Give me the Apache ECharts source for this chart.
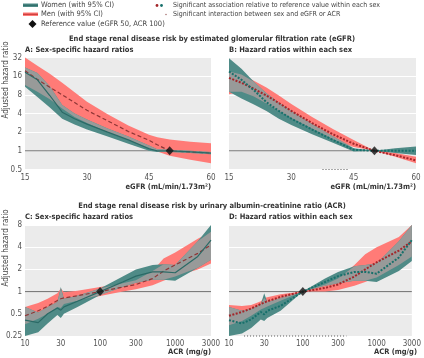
<!DOCTYPE html>
<html>
<head>
<meta charset="UTF-8">
<title>ESRD hazard ratios</title>
<script src="https://cdn.jsdelivr.net/npm/echarts@6/dist/echarts.min.js"></script>
<style>
  html, body { margin: 0; padding: 0; background: #fff; }
  #chart { width: 424px; height: 358px; }
</style>
</head>
<body>
<div id="chart"></div>
<script>
// eGFR panels (A: sex-specific, B: within each sex)
var egfrA = [15, 18, 21, 24, 27, 30, 35, 40, 45, 47, 50, 55, 60];
var menA = [19.5, 14.2, 10.6, 8.0, 6.0, 4.5, 3.05, 2.05, 1.48, 1.25, 1.0, 0.96, 0.92];
var menAHi = [32, 23.5, 17.5, 12.5, 8.8, 6.2, 3.9, 2.55, 1.82, 1.65, 1.52, 1.4, 1.32];
var menALo = [11.5, 9.0, 6.8, 4.8, 3.5, 2.8, 2.0, 1.5, 1.12, 0.98, 0.83, 0.72, 0.63];
var womenA = [18.5, 14.0, 7.8, 4.2, 3.3, 2.7, 2.0, 1.5, 1.08, 1.0, 1.0, 0.96, 0.92];
var womenAHi = [22, 18, 11, 5.5, 4.0, 3.2, 2.3, 1.7, 1.22, 1.06, 1.04, 1.0, 0.96];
var womenALo = [10.8, 7.4, 5.0, 3.3, 2.65, 2.2, 1.7, 1.3, 1.0, 0.96, 0.96, 0.92, 0.88];

var egfrB = [15, 18, 21, 24, 27, 30, 35, 40, 45, 50, 55, 60];
var menB = [15, 12.5, 10, 7.8, 5.9, 4.4, 2.8, 1.85, 1.3, 1.0, 0.85, 0.7];
var menBHi = [19, 17, 13.5, 10.5, 7.8, 5.7, 3.5, 2.25, 1.5, 1.0, 0.92, 0.8];
var menBLo = [8.2, 9.0, 7.5, 5.8, 4.4, 3.4, 2.3, 1.55, 1.15, 1.0, 0.8, 0.63];
var womenB = [19, 14, 9.5, 6.1, 4.4, 3.3, 2.2, 1.5, 1.04, 1.0, 1.0, 1.0];
var womenBHi = [31, 21, 13, 8.5, 6.0, 4.4, 2.7, 1.72, 1.1, 1.0, 1.1, 1.17];
var womenBLo = [9.0, 7.0, 5.6, 4.4, 3.3, 2.6, 1.85, 1.35, 0.98, 1.0, 0.92, 0.86];
var interB = [37.5, 44];

// ACR panels (C: sex-specific, D: within each sex)
var acr = [10, 15, 20, 27, 30, 33, 50, 100, 200, 300, 500, 700, 1000, 2000, 3000];
var menC = [0.47, 0.55, 0.63, 0.76, 0.8, 0.82, 0.88, 1.0, 1.15, 1.25, 1.5, 1.9, 2.3, 3.3, 4.3];
var menCHi = [0.62, 0.7, 0.8, 0.95, 1.1, 0.98, 1.03, 1.15, 1.3, 1.42, 1.9, 2.8, 3.4, 5.2, 6.5];
var menCLo = [0.36, 0.43, 0.5, 0.62, 0.6, 0.68, 0.75, 0.87, 1.0, 1.08, 1.22, 1.4, 1.6, 2.0, 2.4];
var womenC = [0.41, 0.38, 0.5, 0.6, 0.56, 0.62, 0.74, 1.0, 1.35, 1.62, 1.85, 1.85, 1.8, 3.0, 5.0];
var womenCHi = [0.62, 0.52, 0.62, 0.72, 1.15, 0.8, 0.88, 1.1, 1.6, 2.0, 2.3, 2.35, 2.3, 4.8, 8];
var womenCLo = [0.25, 0.28, 0.37, 0.48, 0.44, 0.5, 0.62, 0.9, 1.15, 1.32, 1.45, 1.45, 1.4, 2.1, 2.7];

var menD = [0.47, 0.53, 0.59, 0.68, 0.71, 0.74, 0.85, 1.0, 1.12, 1.25, 1.6, 2.0, 2.5, 3.6, 4.8];
var menDHi = [0.66, 0.64, 0.66, 0.74, 0.82, 0.84, 0.92, 1.0, 1.25, 1.5, 2.3, 3.2, 4.0, 5.5, 8];
var menDLo = [0.35, 0.4, 0.47, 0.57, 0.6, 0.63, 0.75, 1.0, 1.0, 1.05, 1.2, 1.35, 1.55, 2.3, 3.0];
var womenD = [0.41, 0.37, 0.42, 0.53, 0.49, 0.55, 0.64, 1.0, 1.35, 1.62, 1.85, 1.85, 1.75, 2.9, 5.0];
var womenDHi = [0.62, 0.55, 0.58, 0.68, 0.95, 0.72, 0.82, 1.0, 1.5, 1.85, 2.2, 2.3, 2.4, 4.8, 8];
var womenDLo = [0.25, 0.27, 0.32, 0.42, 0.4, 0.44, 0.55, 1.0, 1.2, 1.3, 1.4, 1.4, 1.35, 1.9, 2.6];
var interD = [16, 390];

var acrTicks = [10, 30, 100, 300, 1000, 3000];
var refEgfr = 50, refAcr = 100;

var FONT = '"Liberation Sans Narrow", "DejaVu Sans Condensed", sans-serif';
var C_MEN_BAND = '#ff7b77', C_WOMEN_BAND = '#4f8b87', C_OVERLAP = '#989a99';
var C_MEN_LINE = '#8e3535', C_WOMEN_LINE = '#2b6a66';
var C_MEN_DOT = '#a3262a', C_WOMEN_DOT = '#17706b';

function lg(v) { return Math.log10(v); }

function band(idx, xs, lo, hi, color, z) {
  return {
    type: 'custom', xAxisIndex: idx, yAxisIndex: idx, silent: true, z: z,
    data: [[xs[0], hi[0]]],
    renderItem: function (params, api) {
      var pts = [];
      for (var i = 0; i < xs.length; i++) pts.push(api.coord([xs[i], hi[i]]));
      for (var j = xs.length - 1; j >= 0; j--) pts.push(api.coord([xs[j], lo[j]]));
      return { type: 'polygon', shape: { points: pts }, style: { fill: color } };
    }
  };
}

// grey where the two confidence bands overlap
function overlap(mLo, mHi, wLo, wHi) {
  var lo = [], hi = [];
  for (var i = 0; i < mLo.length; i++) {
    var a = Math.max(mLo[i], wLo[i]), b = Math.min(mHi[i], wHi[i]);
    if (b < a) { var m = Math.sqrt(a * b); a = m; b = m; }
    lo.push(a); hi.push(b);
  }
  return { lo: lo, hi: hi };
}

function pairs(xs, ys) {
  return xs.map(function (x, i) { return [x, ys[i]]; });
}

function panel(idx, xs, xr, refX, yMin, m, mLo, mHi, w, wLo, wHi, dotted, inter) {
  var ov = overlap(mLo, mHi, wLo, wHi);
  var list = [
    { type: 'line', xAxisIndex: idx, yAxisIndex: idx, silent: true, z: 1, symbol: 'none',
      data: [[xr[0], 1], [xr[1], 1]], lineStyle: { color: '#6f6f6f', width: 1 } },
    band(idx, xs, mLo, mHi, C_MEN_BAND, 2),
    band(idx, xs, wLo, wHi, C_WOMEN_BAND, 3),
    band(idx, xs, ov.lo, ov.hi, C_OVERLAP, 4),
    { type: 'line', xAxisIndex: idx, yAxisIndex: idx, silent: true, z: 5, symbol: 'none',
      data: pairs(xs, m),
      lineStyle: dotted ? { color: C_MEN_DOT, width: 2, type: [2, 1.5] }
                        : { color: C_MEN_LINE, width: 1.2, type: [4, 2.5] } },
    { type: 'line', xAxisIndex: idx, yAxisIndex: idx, silent: true, z: 5, symbol: 'none',
      data: pairs(xs, w),
      lineStyle: dotted ? { color: C_WOMEN_DOT, width: 2, type: [2, 1.5] }
                        : { color: C_WOMEN_LINE, width: 1.2 } },
    { type: 'scatter', xAxisIndex: idx, yAxisIndex: idx, silent: true, z: 6,
      symbol: 'diamond', symbolSize: [8, 9], itemStyle: { color: '#111' },
      data: [[refX, 1]] }
  ];
  if (inter) {
    list.push({ type: 'line', xAxisIndex: idx, yAxisIndex: idx, silent: true, z: 6, symbol: 'none',
      clip: false, data: [[inter[0], yMin], [inter[1], yMin]],
      lineStyle: { color: '#555', width: 1, type: [1, 2] } });
  }
  return list;
}

var grids = [
  { left: 25, top: 57.5, width: 186, height: 112 },
  { left: 229, top: 57.5, width: 187, height: 112 },
  { left: 25, top: 225, width: 186, height: 111 },
  { left: 229, top: 225, width: 188, height: 111 }
].map(function (g) {
  return Object.assign({ show: true, backgroundColor: '#ebebeb', borderWidth: 0 }, g);
});

var labelStyle = { color: '#555', fontSize: 8, fontFamily: FONT };

function egfrAxis(idx) {
  return { type: 'value', gridIndex: idx, min: 15, max: 60, interval: 15,
    axisLine: { show: false }, axisTick: { show: false }, splitLine: { show: false },
    axisLabel: Object.assign({ margin: 4 }, labelStyle) };
}
function acrAxis(idx) {
  return { type: 'value', gridIndex: idx, min: lg(10), max: lg(3000),
    axisLine: { show: false }, splitLine: { show: false },
    axisTick: { show: false, customValues: acrTicks.map(lg) },
    axisLabel: Object.assign({ margin: 4, customValues: acrTicks.map(lg),
      formatter: function (v) { return String(Math.round(Math.pow(10, v))); } }, labelStyle) };
}
function hrAxis(idx, lo, hi, showLabels) {
  return { type: 'log', logBase: 2, gridIndex: idx, min: lo, max: hi,
    axisLine: { show: false }, axisTick: { show: false },
    splitLine: { show: true, lineStyle: { color: '#fff', width: 1 } },
    axisLabel: Object.assign({ show: showLabels, margin: 3 }, labelStyle) };
}

var xLog = acr.map(lg);
var series = []
  .concat(panel(0, egfrA, [15, 60], refEgfr, 0.5, menA, menALo, menAHi, womenA, womenALo, womenAHi, false, null))
  .concat(panel(1, egfrB, [15, 60], refEgfr, 0.5, menB, menBLo, menBHi, womenB, womenBLo, womenBHi, true, interB))
  .concat(panel(2, xLog, [lg(10), lg(3000)], lg(refAcr), 0.25, menC, menCLo, menCHi, womenC, womenCLo, womenCHi, false, null))
  .concat(panel(3, xLog, [lg(10), lg(3000)], lg(refAcr), 0.25, menD, menDLo, menDHi, womenD, womenDLo, womenDHi, true, interD.map(lg)));

function txt(x, y, s, opt) {
  opt = opt || {};
  return { type: 'text', x: x, y: y, rotation: opt.rotation || 0, silent: true,
    style: { text: s, fontFamily: FONT, fontSize: opt.size || 7.5,
      fontWeight: opt.bold ? 'bold' : 'normal', fill: opt.color || '#444',
      align: opt.align || 'left', verticalAlign: 'middle' } };
}

var graphic = [
  // legend, left block
  { type: 'rect', silent: true, shape: { x: 23, y: 3.5, width: 15, height: 3.5 }, style: { fill: C_WOMEN_BAND } },
  { type: 'line', silent: true, shape: { x1: 23, y1: 5.25, x2: 38, y2: 5.25 }, style: { stroke: C_WOMEN_LINE, lineWidth: 1 } },
  txt(41, 5.5, 'Women (with 95% CI)'),
  { type: 'rect', silent: true, shape: { x: 23, y: 12.5, width: 15, height: 3.5 }, style: { fill: C_MEN_BAND } },
  { type: 'line', silent: true, shape: { x1: 23, y1: 14.25, x2: 38, y2: 14.25 }, style: { stroke: '#c03030', lineWidth: 1 } },
  txt(41, 14.5, 'Men (with 95% CI)'),
  { type: 'polygon', silent: true, shape: { points: [[32.5, 20], [36.5, 24], [32.5, 28], [28.5, 24]] }, style: { fill: '#111' } },
  txt(41, 24, 'Reference value (eGFR 50, ACR 100)'),
  // legend, right block
  { type: 'circle', silent: true, shape: { cx: 157, cy: 5.5, r: 1.4 }, style: { fill: C_MEN_DOT } },
  { type: 'circle', silent: true, shape: { cx: 161.5, cy: 5.5, r: 1.4 }, style: { fill: C_WOMEN_DOT } },
  txt(173, 5.5, 'Significant association relative to reference value within each sex', { size: 7 }),
  { type: 'circle', silent: true, shape: { cx: 166, cy: 14.5, r: 0.8 }, style: { fill: '#a77' } },
  txt(173, 14.5, 'Significant interaction between sex and eGFR or ACR', { size: 7 }),
  // titles
  txt(212, 39.5, 'End stage renal disease risk by estimated glomerular filtration rate (eGFR)', { bold: true, align: 'center', color: '#333' }),
  txt(25, 50.5, 'A: Sex-specific hazard ratios', { bold: true, color: '#333' }),
  txt(229, 50.5, 'B: Hazard ratios within each sex', { bold: true, color: '#333' }),
  txt(212, 206, 'End stage renal disease risk by urinary albumin-creatinine ratio (ACR)', { bold: true, align: 'center', color: '#333' }),
  txt(25, 217.5, 'C: Sex-specific hazard ratios', { bold: true, color: '#333' }),
  txt(229, 217.5, 'D: Hazard ratios within each sex', { bold: true, color: '#333' }),
  // axis names
  txt(6, 80, 'Adjusted hazard ratio', { rotation: Math.PI / 2, align: 'center', size: 8 }),
  txt(6, 248, 'Adjusted hazard ratio', { rotation: Math.PI / 2, align: 'center', size: 8 }),
  txt(211, 187, 'eGFR (mL/min/1.73m²)', { bold: true, align: 'right', color: '#333' }),
  txt(416, 187, 'eGFR (mL/min/1.73m²)', { bold: true, align: 'right', color: '#333' }),
  txt(211, 352, 'ACR (mg/g)', { bold: true, align: 'right', color: '#333' }),
  txt(417, 352, 'ACR (mg/g)', { bold: true, align: 'right', color: '#333' })
];

var chart = echarts.init(document.getElementById('chart'), null, { renderer: 'canvas' });
chart.setOption({
  animation: false,
  backgroundColor: '#fff',
  grid: grids,
  xAxis: [egfrAxis(0), egfrAxis(1), acrAxis(2), acrAxis(3)],
  yAxis: [hrAxis(0, 0.5, 32, true), hrAxis(1, 0.5, 32, false), hrAxis(2, 0.25, 8, true), hrAxis(3, 0.25, 8, false)],
  series: series,
  graphic: graphic
});
</script>
</body>
</html>
